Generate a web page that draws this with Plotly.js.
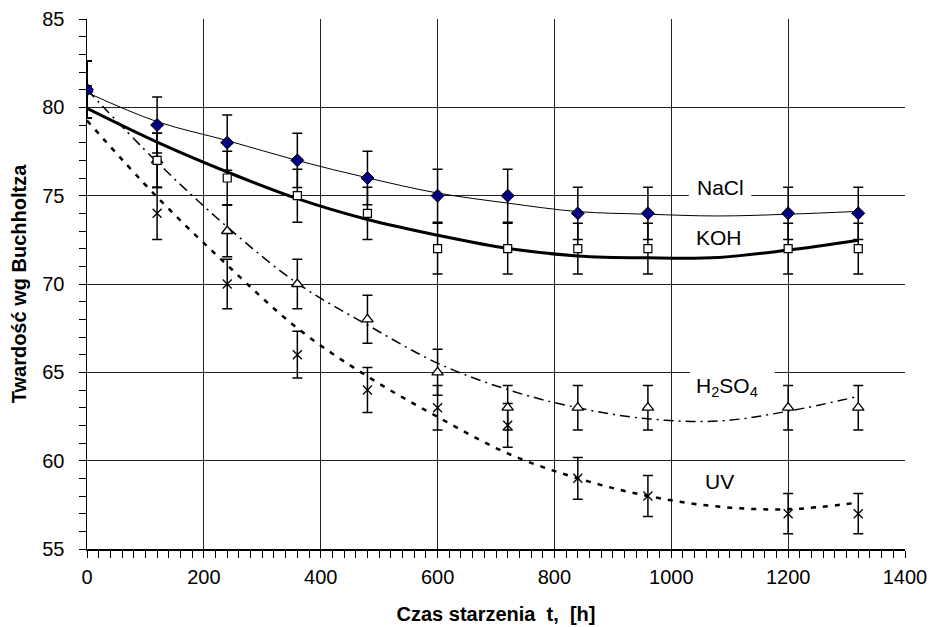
<!DOCTYPE html>
<html>
<head>
<meta charset="utf-8">
<script src="https://cdn.plot.ly/plotly-3.0.1.min.js"></script>
<style>html,body{margin:0;padding:0;background:#fff;}#chart{width:932px;height:627px;}</style>
</head>
<body>
<div id="chart"></div>
<script>
// measured points
const timeH = [0, 120, 240, 360, 480, 600, 720, 840, 960, 1200, 1320];
const naclVals = [81, 79, 78, 77, 76, 75, 75, 74, 74, 74, 74];
const kohVals  = [81, 77, 76, 75, 74, 72, 72, 72, 72, 72, 72];
const h2so4Vals = [81, 77, 73, 70, 68, 65, 63, 63, 63, 63, 63];
const uvVals   = [81, 74, 70, 66, 64, 63, 62, 59, 58, 57, 57];
const errPercent = 2;

// trend curves
const fitT = [0, 120, 240, 360, 480, 600, 720, 840, 960, 1080, 1200, 1320];
const naclFit  = [80.84, 79.19, 78.12, 76.99, 76.01, 75.15, 74.58, 74.10, 73.95, 73.85, 73.95, 74.11];
const kohFit   = [79.94, 78.03, 76.34, 74.83, 73.65, 72.76, 72.01, 71.59, 71.48, 71.50, 71.92, 72.48];
const h2so4Fit = [81.00, 76.90, 73.23, 70.04, 67.68, 65.52, 64.02, 62.99, 62.37, 62.24, 62.80, 63.64];
const uvFit    = [79.25, 74.92, 71.07, 67.50, 64.77, 62.48, 60.41, 59.00, 58.00, 57.40, 57.25, 57.63];

const labelNames = ['NaCl', 'KOH', 'H<sub>2</sub>SO<sub>4</sub>', 'UV'];
const labelX = [1085, 1082, 1096, 1082];
const labelY = [75.49, 72.66, 64.17, 58.8];
// white boxes behind the labels that break the gridlines
const boxX0 = [1030, 1032];
const boxX1 = [1137, 1177];
const boxY0 = [74.6, 64.5];
const boxY1 = [75.4, 65.5];

const FONT = 'Liberation Sans, Arial, sans-serif';

function fitTrace(y, width, dash) {
  return {x: fitT, y: y, mode: 'lines', type: 'scatter', showlegend: false, hoverinfo: 'skip',
    line: {color: '#000', width: width, dash: dash, shape: 'spline', smoothing: 1}};
}
function ptTrace(y, marker) {
  return {x: timeH, y: y, mode: 'markers', type: 'scatter', showlegend: false,
    marker: marker,
    error_y: {type: 'percent', value: errPercent, color: '#000', thickness: 1.5, width: 5}};
}

const data = [
  fitTrace(naclFit, 1, 'solid'),
  fitTrace(kohFit, 3, 'solid'),
  fitTrace(h2so4Fit, 1.5, '10px,5px,2px,5px'),
  fitTrace(uvFit, 2.5, '5px,7px'),
  ptTrace(uvVals, {symbol: 'x-thin-open', size: 9, color: '#000', line: {color: '#000', width: 1.3}}),
  ptTrace(h2so4Vals, {symbol: 'triangle-up', size: 10, color: '#fff', line: {color: '#000', width: 1.3}}),
  ptTrace(kohVals, {symbol: 'square', size: 8, color: '#fff', line: {color: '#000', width: 1.2}}),
  ptTrace(naclVals, {symbol: 'diamond', size: 10, color: '#000080', line: {color: '#000', width: 1}})
];

const annotations = labelNames.map((t, i) => ({
  x: labelX[i], y: labelY[i], xref: 'x', yref: 'y', text: t, showarrow: false,
  xanchor: 'center', yanchor: 'middle',
  font: {family: FONT, size: 21, color: '#000'}
}));

const shapes = boxX0.map((x0, i) => ({
  type: 'rect', xref: 'x', yref: 'y', x0: x0, x1: boxX1[i], y0: boxY0[i], y1: boxY1[i],
  fillcolor: '#ffffff', line: {width: 0}, layer: 'between'
}));

const layout = {
  width: 932, height: 627,
  margin: {l: 87, r: 27, t: 19, b: 78},
  paper_bgcolor: '#fff', plot_bgcolor: '#fff',
  font: {family: FONT, color: '#000'},
  xaxis: {
    range: [0, 1400], dtick: 200, tick0: 0,
    showline: true, linecolor: '#000', linewidth: 1.5,
    ticks: 'outside', ticklen: 7, tickcolor: '#000', tickwidth: 1,
    showgrid: true, gridcolor: '#222', gridwidth: 1, zeroline: false,
    minor: {dtick: 20, ticks: 'outside', ticklen: 7, tickcolor: '#000', showgrid: false},
    tickfont: {family: FONT, size: 20, color: '#000'},
    ticklabelstandoff: 2,
    title: {text: 'Czas starzenia\u00a0\u00a0t,\u00a0\u00a0[h]', font: {family: FONT, size: 20, color: '#000', weight: 'bold'}, standoff: 20}
  },
  yaxis: {
    range: [55, 85], dtick: 5, tick0: 55,
    showline: true, linecolor: '#000', linewidth: 1.5,
    ticks: 'outside', ticklen: 7, tickcolor: '#000', tickwidth: 1,
    showgrid: true, gridcolor: '#222', gridwidth: 1, zeroline: false,
    minor: {dtick: 1, ticks: 'outside', ticklen: 7, tickcolor: '#000', showgrid: false},
    tickfont: {family: FONT, size: 20, color: '#000'},
    ticklabelstandoff: 10,
    title: {text: 'Twardość wg Buchholtza', font: {family: FONT, size: 20, color: '#000', weight: 'bold'}, standoff: 10}
  },
  shapes: shapes,
  annotations: annotations
};

Plotly.newPlot('chart', data, layout, {displayModeBar: false, staticPlot: true});
</script>
</body>
</html>
